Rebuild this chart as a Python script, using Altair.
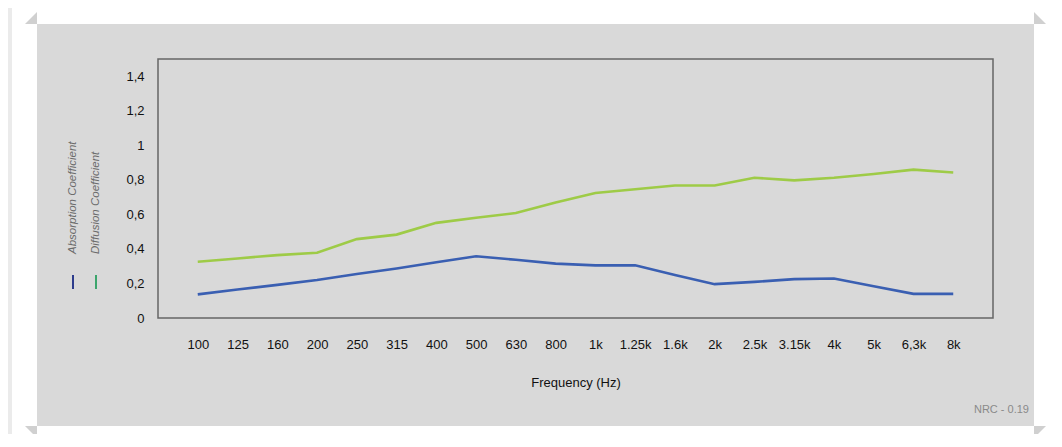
import altair as alt
import pandas as pd

# ---- data ----
freqs = ["100", "125", "160", "200", "250", "315", "400", "500", "630", "800",
         "1k", "1.25k", "1.6k", "2k", "2.5k", "3.15k", "4k", "5k", "6,3k", "8k"]
absorption = [0.137, 0.165, 0.192, 0.220, 0.255, 0.287, 0.323, 0.358, 0.337, 0.315,
              0.305, 0.305, 0.249, 0.196, 0.209, 0.225, 0.229, 0.184, 0.140, 0.140]
diffusion = [0.326, 0.345, 0.364, 0.378, 0.457, 0.483, 0.551, 0.581, 0.608, 0.669,
             0.724, 0.746, 0.767, 0.767, 0.812, 0.797, 0.812, 0.834, 0.859, 0.843]
series_names = ["Absorption Coefficient", "Diffusion Coefficient"]
series_colors = ["#3a5fb2", "#9ecb47"]
legend_colors = ["#2d3c8c", "#3ca56c"]
y_ticks = [0, 0.2, 0.4, 0.6, 0.8, 1.0, 1.2, 1.4]
x_title = "Frequency (Hz)"
nrc_label = "NRC - 0.19"

rows = []
for f, a, d in zip(freqs, absorption, diffusion):
    rows.append({"freq": f, "series": series_names[0], "value": a})
    rows.append({"freq": f, "series": series_names[1], "value": d})
df = pd.DataFrame(rows)
one = pd.DataFrame({"k": [0]})

W, H = 835, 259
PANEL = "#d9d9d9"


def rect(x, x2, y, y2, color):
    return alt.Chart(one).mark_rect(color=color).encode(
        x=alt.value(x), x2=alt.value(x2), y=alt.value(y), y2=alt.value(y2))


def tri(path, cx, cy, color="#d0d0d0"):
    return alt.Chart(one).mark_point(shape=path, filled=True, size=144,
                                     color=color, opacity=1, strokeWidth=0).encode(
        x=alt.value(cx), y=alt.value(cy))


panel = rect(-121, 876, -35, 367, PANEL)
stripe_left = rect(-150, -146, -51, 380, "#ebebeb")
t1 = tri("M -1 1 L 1 1 L 1 -1 Z", -127, -41)
t2 = tri("M -1 -1 L -1 1 L 1 1 Z", 882, -41)
t3 = tri("M -1 -1 L 1 -1 L 1 1 Z", -127, 373)
t4 = tri("M -1 -1 L 1 -1 L -1 1 Z", 882, 373)

frame = alt.Chart(one).mark_rect(fill=None, stroke="#666666", strokeWidth=1.5).encode(
    x=alt.value(0), x2=alt.value(W), y=alt.value(0), y2=alt.value(H))

lines = alt.Chart(df).mark_line(strokeWidth=2.6).encode(
    x=alt.X("freq:N", sort=freqs,
            scale=alt.Scale(type="point", padding=1.05),
            axis=alt.Axis(title=x_title, labelAngle=0, ticks=False, tickSize=0,
                          domain=False, grid=False, labelPadding=20,
                          titlePadding=25, labelFontSize=13, titleFontSize=13,
                          titleFontWeight="normal", labelColor="#111111",
                          titleColor="#111111", zindex=2)),
    y=alt.Y("value:Q", scale=alt.Scale(domain=[0, 1.5], nice=False),
            axis=alt.Axis(title=None, values=y_ticks, format="~g",
                          labelExpr="replace(datum.label, '.', ',')",
                          ticks=False, tickSize=0, domain=False, grid=False,
                          labelPadding=14, labelFontSize=13, labelColor="#111111",
                          zindex=2)),
    color=alt.Color("series:N", scale=alt.Scale(domain=series_names, range=series_colors),
                    legend=None),
)

leg_text = [
    alt.Chart(one).mark_text(angle=270, align="left", baseline="middle",
                             fontStyle="italic", fontSize=11.5, color="#6b6b6b").encode(
        x=alt.value(xp), y=alt.value(195), text=alt.value(name))
    for name, xp in zip(series_names, [-85, -62])
]
leg_marks = [
    alt.Chart(one).mark_rule(strokeWidth=2, color=c).encode(
        x=alt.value(xp), y=alt.value(216), y2=alt.value(230))
    for c, xp in zip(legend_colors, [-85, -62])
]

nrc = alt.Chart(one).mark_text(align="right", baseline="middle", fontSize=11,
                               color="#8a8a8a").encode(
    x=alt.value(871), y=alt.value(351), text=alt.value(nrc_label))

chart = alt.layer(
    stripe_left, panel, t1, t2, t3, t4, frame, lines, *leg_text, *leg_marks, nrc
).properties(
    width=W, height=H,
    padding={"left": 150, "top": 51, "right": 55, "bottom": 116},
    autosize=alt.AutoSizeParams(type="none"),
    background="#ffffff",
).configure_view(stroke=None).configure(font="Liberation Sans")

chart.save("out.html", embed_options={"renderer": "svg", "actions": False})
